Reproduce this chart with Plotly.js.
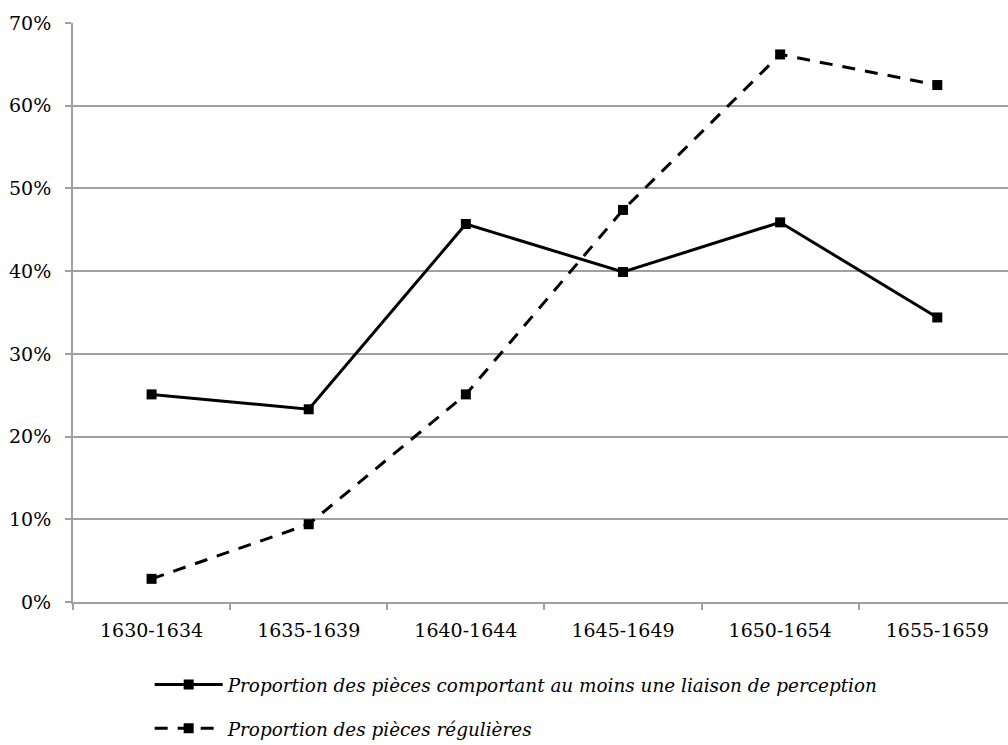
<!DOCTYPE html>
<html>
<head>
<meta charset="utf-8">
<script src="https://cdn.plot.ly/plotly-3.0.1.min.js"></script>
<style>html,body{margin:0;padding:0;background:#fff;}#chart{width:1008px;height:745px;}</style>
</head>
<body>
<div id="chart"></div>
<script>
const categories = ["1630-1634", "1635-1639", "1640-1644", "1645-1649", "1650-1654", "1655-1659"];
const liaisonName = "Proportion des pièces comportant au moins une liaison de perception";
const liaisonValues = [25.1, 23.3, 45.7, 39.9, 45.9, 34.4];
const regulieresName = "Proportion des pièces régulières";
const regulieresValues = [2.8, 9.4, 25.1, 47.4, 66.2, 62.5];
const yTickValues = [0, 10, 20, 30, 40, 50, 60, 70];
const yTickLabels = yTickValues.map(v => v + "%");

const fontFamily = "DejaVu Serif";

const traces = [
  {
    x: categories, y: liaisonValues, name: liaisonName, legendgroup: "a",
    type: "scatter", mode: "lines+markers",
    line: {color: "#000", width: 3},
    marker: {symbol: "square", size: 10, color: "#000"}
  },
  {
    x: categories, y: regulieresValues, name: regulieresName, legendgroup: "b",
    type: "scatter", mode: "lines+markers",
    line: {color: "#000", width: 3, dash: "13px,10px"},
    marker: {symbol: "square", size: 10, color: "#000"}
  }
];

const layout = {
  width: 1008, height: 745,
  margin: {l: 73, r: 0, t: 23, b: 143, autoexpand: false},
  paper_bgcolor: "#fff", plot_bgcolor: "#fff",
  font: {family: fontFamily, size: 19, color: "#000"},
  showlegend: true,
  legend: {
    orientation: "v",
    x: 0.082, xanchor: "left",
    y: -0.2504, yanchor: "bottom",
    font: {family: fontFamily, size: 18.4, style: "italic", color: "#000"},
    tracegroupgap: 17,
    itemwidth: 68,
    bgcolor: "rgba(0,0,0,0)"
  },
  xaxis: {
    type: "category",
    range: [-0.5, 5.45],
    showgrid: false,
    showline: true, linecolor: "#a0a0a0", linewidth: 2,
    ticks: "outside", tickson: "boundaries", ticklen: 6, tickcolor: "#a0a0a0", tickwidth: 2,
    ticklabelstandoff: 10,
    tickfont: {family: fontFamily, size: 19, color: "#000"},
    zeroline: false
  },
  yaxis: {
    range: [0, 70],
    tickmode: "array",
    tickvals: yTickValues,
    ticktext: yTickLabels,
    showgrid: true, gridcolor: "#a0a0a0", gridwidth: 2,
    showline: true, linecolor: "#a0a0a0", linewidth: 2,
    ticks: "outside", ticklen: 6, tickcolor: "#a0a0a0", tickwidth: 2,
    ticklabelstandoff: 10,
    tickfont: {family: fontFamily, size: 19, color: "#000"},
    zeroline: false
  }
};

Plotly.newPlot("chart", traces, layout, {displayModeBar: false, staticPlot: true});
</script>
</body>
</html>
